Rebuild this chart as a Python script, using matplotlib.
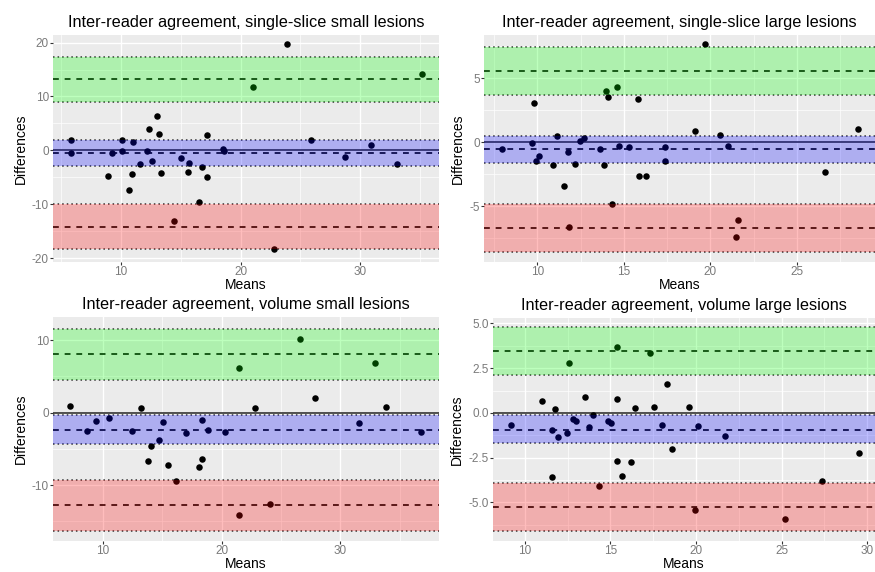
import matplotlib
matplotlib.use("Agg")
import matplotlib.pyplot as plt
from matplotlib.ticker import FixedLocator, MultipleLocator

plt.rcParams['font.family'] = ['Liberation Sans', 'DejaVu Sans']

# ---------------- data ----------------
titles = [
    "Inter-reader agreement, single-slice small lesions",
    "Inter-reader agreement, single-slice large lesions",
    "Inter-reader agreement, volume small lesions",
    "Inter-reader agreement, volume large lesions",
]

# panel 1: single-slice small lesions
means_1 = [5.8, 5.8, 9.2, 8.9, 10.1, 10.1, 11.0, 10.7, 10.9, 11.6, 12.2, 12.3, 12.6,
           13.2, 13.0, 13.3, 14.4, 15.0, 15.6, 15.7, 16.5, 16.8, 17.2, 17.2, 18.5,
           18.6, 21.0, 23.9, 22.8, 25.9, 28.7, 30.9, 33.1, 35.2]
diffs_1 = [1.86, -0.43, -0.5, -4.84, 1.99, -0.06, 1.6, -7.3, -4.3, -2.5, -0.06, 4.0,
           -2.05, 3.04, 6.3, -4.2, -13.15, -1.5, -4.1, -2.4, -9.55, -3.1, 2.9, -5.0,
           0.3, -0.2, 11.8, 19.8, -18.2, 2.0, -1.24, 0.93, -2.5, 14.2]
# bias, upper and lower limits of agreement (each: CI lower, value, CI upper)
bias_1 = [-2.9, -0.4, 2.0]
upper_1 = [9.0, 13.15, 17.3]
lower_1 = [-18.2, -14.15, -10.0]

# panel 2: single-slice large lesions
means_2 = [7.96, 9.79, 9.71, 9.9, 10.1, 10.88, 11.13, 11.54, 11.77, 11.8, 12.17, 12.48,
           12.71, 13.63, 13.83, 13.94, 14.08, 14.29, 14.6, 14.69, 15.31, 15.8, 15.85,
           16.29, 17.35, 17.37, 19.13, 19.67, 20.54, 21.0, 21.56, 21.46, 26.63, 28.52]
diffs_2 = [-0.56, 3.04, -0.05, -1.5, -1.08, -1.83, 0.45, -3.41, -0.77, -6.67, -1.72,
           0.08, 0.34, -0.56, -1.83, 4.0, 3.52, -4.87, 4.26, -0.34, -0.4, 3.33, -2.62,
           -2.62, -0.42, -1.48, 0.9, 7.65, 0.56, -0.32, -6.11, -7.38, -2.35, 1.03]
bias_2 = [-1.67, -0.53, 0.5]
upper_2 = [3.68, 5.56, 7.4]
lower_2 = [-8.57, -6.75, -4.84]

# panel 3: volume small lesions
means_3 = [7.25, 8.65, 9.41, 10.48, 12.41, 13.2, 13.81, 14.07, 14.71, 15.02, 15.47,
           16.12, 16.96, 18.08, 18.36, 18.36, 18.89, 20.29, 21.44, 21.42, 22.79, 24.08,
           26.6, 27.87, 31.54, 32.94, 33.84, 36.82]
diffs_3 = [0.96, -2.55, -1.09, -0.77, -2.55, 0.68, -6.7, -4.6, -3.74, -1.28, -7.15,
           -9.38, -2.87, -7.47, -6.33, -0.96, -2.41, -2.64, 6.15, -14.17, 0.68, -12.53,
           10.1, 2.0, -1.41, 6.79, 0.73, -2.69]
bias_3 = [-4.37, -2.32, -0.25]
upper_3 = [4.56, 8.1, 11.6]
lower_3 = [-16.3, -12.7, -9.25]

# panel 4: volume large lesions
means_4 = [9.18, 11.03, 11.58, 11.58, 11.75, 11.93, 12.49, 12.57, 12.84, 13.02, 13.54,
           13.74, 13.97, 14.32, 14.89, 15.02, 15.36, 15.36, 15.39, 15.67, 16.19, 16.45,
           17.32, 17.54, 18.04, 18.33, 18.6, 19.58, 19.93, 20.1, 21.7, 25.19, 27.35, 29.53]
diffs_4 = [-0.67, 0.69, -0.94, -3.59, 0.2, -1.33, -1.13, 2.76, -0.33, -0.43, 0.89,
           -0.81, -0.13, -4.07, -0.46, -0.59, 3.67, -2.7, 0.8, -3.5, -2.76, 0.3, 3.35,
           0.35, -0.7, 1.61, -2.04, 0.31, -5.41, -0.74, -1.31, -5.93, -3.78, -2.24]
bias_4 = [-1.69, -0.93, -0.11]
upper_4 = [2.11, 3.44, 4.78]
lower_4 = [-6.59, -5.26, -3.93]

xticks = [[10, 20, 30], [10, 15, 20, 25], [10, 20, 30], [10, 15, 20, 25, 30]]
yticks = [[-20, -10, 0, 10, 20], [-5, 0, 5], [-10, 0, 10], [-5.0, -2.5, 0.0, 2.5, 5.0]]
yticklabels = [["-20", "-10", "0", "10", "20"], ["-5", "0", "5"], ["-10", "0", "10"],
               ["-5.0", "-2.5", "0.0", "2.5", "5.0"]]
xlims = [(4.3, 36.6), (6.92, 29.5), (5.8, 38.3), (8.15, 30.45)]
ylims = [(-20.7, 21.4), (-9.37, 8.36), (-17.7, 13.2), (-7.15, 5.3)]

panels = [
    (means_1, diffs_1, bias_1, upper_1, lower_1),
    (means_2, diffs_2, bias_2, upper_2, lower_2),
    (means_3, diffs_3, bias_3, upper_3, lower_3),
    (means_4, diffs_4, bias_4, upper_4, lower_4),
]

# ---------------- layout ----------------
W, H = 875, 572
boxes = [  # left, top, right, bottom in px
    (53, 35, 439, 262),
    (484, 35, 875, 262),
    (53, 317, 439, 541),
    (493, 318, 875, 541),
]

fig = plt.figure(figsize=(W / 100, H / 100), dpi=100)
fig.patch.set_facecolor('white')

band_colors = ['#0000ff', '#00ff00', '#ff0000']  # bias, upper, lower

for i, (box, data) in enumerate(zip(boxes, panels)):
    l, t, r, b = box
    ax = fig.add_axes([l / W, 1 - b / H, (r - l) / W, (b - t) / H])
    means, diffs, bias, upper, lower = data
    ax.set_facecolor('#ebebeb')
    for s in ax.spines.values():
        s.set_visible(False)

    ax.set_xlim(*xlims[i])
    ax.set_ylim(*ylims[i])
    ax.xaxis.set_major_locator(FixedLocator(xticks[i]))
    ax.set_yticks(yticks[i])
    ax.set_yticklabels(yticklabels[i])
    xs = xticks[i]
    ys = yticks[i]
    ax.xaxis.set_minor_locator(MultipleLocator((xs[1] - xs[0]) / 2))
    ax.yaxis.set_minor_locator(MultipleLocator((ys[1] - ys[0]) / 2))
    ax.grid(True, which='major', color='white', linewidth=1.0, zorder=0)
    ax.grid(True, which='minor', color='white', linewidth=0.5, zorder=0)
    ax.set_axisbelow(True)
    ax.tick_params(which='major', length=2.0, width=0.8, color='#333333',
                   labelsize=8.5, labelcolor='#7a7a7a', pad=1)
    ax.tick_params(which='minor', length=0)

    # zero line and data (drawn beneath the translucent bands)
    ax.axhline(0, color='#222222', linewidth=1.1, zorder=2)
    ax.scatter(means, diffs, s=22, color='black', zorder=3, linewidths=0)

    for vals, col in zip([bias, upper, lower], band_colors):
        lo, mid, hi = vals
        ax.axhline(lo, color='#333333', linestyle=(0, (1, 2.0)), linewidth=1.1, zorder=2)
        ax.axhline(hi, color='#333333', linestyle=(0, (1, 2.0)), linewidth=1.1, zorder=2)
        ax.axhline(mid, color='black', linestyle=(0, (3.5, 3.5)), linewidth=1.2, zorder=2)
        ax.axhspan(lo, hi, facecolor=col, alpha=0.26, linewidth=0, zorder=4)

    ax.set_title(titles[i], fontsize=11.7, color='black', pad=6)
    ax.set_xlabel("Means", fontsize=10, labelpad=0)
    ax.set_ylabel("Differences", fontsize=10, labelpad=3)

fig.savefig("out.png", dpi=100, facecolor='white')
